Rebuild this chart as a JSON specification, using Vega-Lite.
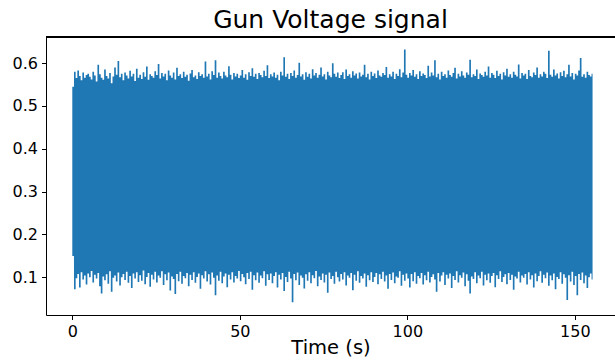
{
  "$schema": "https://vega.github.io/schema/vega-lite/v6.json",
  "width": 569,
  "height": 278,
  "autosize": {"type": "none"},
  "padding": {"left": 46, "top": 37, "right": 0, "bottom": 45},
  "background": "white",
  "title": {"text": "Gun Voltage signal", "fontSize": 25, "font": "DejaVu Sans", "fontWeight": "normal", "color": "black", "anchor": "middle", "baseline": "alphabetic", "offset": 8, "dy": 24},
  "config": {
    "view": {"stroke": null},
    "axis": {"domainColor": "black", "domainWidth": 1, "tickColor": "black", "tickWidth": 1, "tickSize": 4.5, "labelFont": "DejaVu Sans", "labelFontSize": 16, "labelColor": "black", "labelPadding": 4, "titleFont": "DejaVu Sans", "titleFontSize": 19.5, "titleFontWeight": "normal", "titleColor": "black", "grid": false}
  },
  "data": {"values": [
{"t":0,"hi":0.545,"lo":0.15},{"t":0.5,"hi":0.58,"lo":0.072},{"t":1,"hi":0.565,"lo":0.098},{"t":1.5,"hi":0.583,"lo":0.108},{"t":2,"hi":0.57,"lo":0.076},{"t":2.5,"hi":0.56,"lo":0.112},{"t":3,"hi":0.578,"lo":0.095},{"t":3.5,"hi":0.566,"lo":0.104},{"t":4,"hi":0.572,"lo":0.083},{"t":4.5,"hi":0.575,"lo":0.109},
{"t":5,"hi":0.568,"lo":0.1},{"t":5.5,"hi":0.562,"lo":0.115},{"t":6,"hi":0.58,"lo":0.088},{"t":6.5,"hi":0.571,"lo":0.106},{"t":7,"hi":0.557,"lo":0.097},{"t":7.5,"hi":0.596,"lo":0.11},{"t":8,"hi":0.574,"lo":0.079},{"t":8.5,"hi":0.566,"lo":0.062},{"t":9,"hi":0.561,"lo":0.102},{"t":9.5,"hi":0.585,"lo":0.093},
{"t":10,"hi":0.57,"lo":0.107},{"t":10.5,"hi":0.564,"lo":0.085},{"t":11,"hi":0.577,"lo":0.114},{"t":11.5,"hi":0.553,"lo":0.066},{"t":12,"hi":0.569,"lo":0.099},{"t":12.5,"hi":0.59,"lo":0.104},{"t":13,"hi":0.573,"lo":0.09},{"t":13.5,"hi":0.605,"lo":0.111},{"t":14,"hi":0.567,"lo":0.081},{"t":14.5,"hi":0.575,"lo":0.1},
{"t":15,"hi":0.56,"lo":0.108},{"t":15.5,"hi":0.578,"lo":0.094},{"t":16,"hi":0.571,"lo":0.113},{"t":16.5,"hi":0.564,"lo":0.087},{"t":17,"hi":0.582,"lo":0.103},{"t":17.5,"hi":0.569,"lo":0.075},{"t":18,"hi":0.575,"lo":0.109},{"t":18.5,"hi":0.558,"lo":0.097},{"t":19,"hi":0.587,"lo":0.112},{"t":19.5,"hi":0.566,"lo":0.089},
{"t":20,"hi":0.573,"lo":0.105},{"t":20.5,"hi":0.563,"lo":0.092},{"t":21,"hi":0.579,"lo":0.116},{"t":21.5,"hi":0.568,"lo":0.084},{"t":22,"hi":0.592,"lo":0.101},{"t":22.5,"hi":0.561,"lo":0.11},{"t":23,"hi":0.574,"lo":0.078},{"t":23.5,"hi":0.57,"lo":0.106},{"t":24,"hi":0.566,"lo":0.095},{"t":24.5,"hi":0.581,"lo":0.113},
{"t":25,"hi":0.572,"lo":0.088},{"t":25.5,"hi":0.598,"lo":0.104},{"t":26,"hi":0.564,"lo":0.099},{"t":26.5,"hi":0.577,"lo":0.114},{"t":27,"hi":0.569,"lo":0.082},{"t":27.5,"hi":0.575,"lo":0.107},{"t":28,"hi":0.56,"lo":0.093},{"t":28.5,"hi":0.583,"lo":0.111},{"t":29,"hi":0.571,"lo":0.069},{"t":29.5,"hi":0.566,"lo":0.102},
{"t":30,"hi":0.578,"lo":0.096},{"t":30.5,"hi":0.562,"lo":0.061},{"t":31,"hi":0.589,"lo":0.108},{"t":31.5,"hi":0.57,"lo":0.091},{"t":32,"hi":0.574,"lo":0.113},{"t":32.5,"hi":0.565,"lo":0.085},{"t":33,"hi":0.58,"lo":0.103},{"t":33.5,"hi":0.568,"lo":0.098},{"t":34,"hi":0.573,"lo":0.11},{"t":34.5,"hi":0.559,"lo":0.079},
{"t":35,"hi":0.576,"lo":0.106},{"t":35.5,"hi":0.584,"lo":0.094},{"t":36,"hi":0.567,"lo":0.112},{"t":36.5,"hi":0.571,"lo":0.087},{"t":37,"hi":0.563,"lo":0.101},{"t":37.5,"hi":0.579,"lo":0.109},{"t":38,"hi":0.57,"lo":0.073},{"t":38.5,"hi":0.574,"lo":0.105},{"t":39,"hi":0.566,"lo":0.097},{"t":39.5,"hi":0.604,"lo":0.114},
{"t":40,"hi":0.569,"lo":0.09},{"t":40.5,"hi":0.575,"lo":0.107},{"t":41,"hi":0.562,"lo":0.083},{"t":41.5,"hi":0.581,"lo":0.111},{"t":42,"hi":0.572,"lo":0.099},{"t":42.5,"hi":0.607,"lo":0.058},{"t":43,"hi":0.566,"lo":0.104},{"t":43.5,"hi":0.578,"lo":0.092},{"t":44,"hi":0.57,"lo":0.113},{"t":44.5,"hi":0.564,"lo":0.086},
{"t":45,"hi":0.58,"lo":0.102},{"t":45.5,"hi":0.571,"lo":0.109},{"t":46,"hi":0.567,"lo":0.077},{"t":46.5,"hi":0.593,"lo":0.106},{"t":47,"hi":0.573,"lo":0.095},{"t":47.5,"hi":0.562,"lo":0.112},{"t":48,"hi":0.577,"lo":0.088},{"t":48.5,"hi":0.569,"lo":0.103},{"t":49,"hi":0.575,"lo":0.097},{"t":49.5,"hi":0.565,"lo":0.115},
{"t":50,"hi":0.571,"lo":0.091},{"t":50.5,"hi":0.584,"lo":0.108},{"t":51,"hi":0.566,"lo":0.1},{"t":51.5,"hi":0.574,"lo":0.084},{"t":52,"hi":0.561,"lo":0.11},{"t":52.5,"hi":0.579,"lo":0.096},{"t":53,"hi":0.57,"lo":0.113},{"t":53.5,"hi":0.588,"lo":0.071},{"t":54,"hi":0.568,"lo":0.105},{"t":54.5,"hi":0.575,"lo":0.093},
{"t":55,"hi":0.563,"lo":0.111},{"t":55.5,"hi":0.577,"lo":0.087},{"t":56,"hi":0.572,"lo":0.104},{"t":56.5,"hi":0.567,"lo":0.098},{"t":57,"hi":0.582,"lo":0.114},{"t":57.5,"hi":0.57,"lo":0.08},{"t":58,"hi":0.595,"lo":0.107},{"t":58.5,"hi":0.565,"lo":0.094},{"t":59,"hi":0.574,"lo":0.109},{"t":59.5,"hi":0.569,"lo":0.086},
{"t":60,"hi":0.578,"lo":0.103},{"t":60.5,"hi":0.566,"lo":0.112},{"t":61,"hi":0.573,"lo":0.076},{"t":61.5,"hi":0.56,"lo":0.106},{"t":62,"hi":0.58,"lo":0.095},{"t":62.5,"hi":0.571,"lo":0.11},{"t":63,"hi":0.614,"lo":0.068},{"t":63.5,"hi":0.568,"lo":0.101},{"t":64,"hi":0.575,"lo":0.089},{"t":64.5,"hi":0.563,"lo":0.113},
{"t":65,"hi":0.577,"lo":0.097},{"t":65.5,"hi":0.57,"lo":0.042},{"t":66,"hi":0.583,"lo":0.108},{"t":66.5,"hi":0.566,"lo":0.093},{"t":67,"hi":0.572,"lo":0.111},{"t":67.5,"hi":0.601,"lo":0.082},{"t":68,"hi":0.569,"lo":0.104},{"t":68.5,"hi":0.574,"lo":0.099},{"t":69,"hi":0.561,"lo":0.074},{"t":69.5,"hi":0.579,"lo":0.107},
{"t":70,"hi":0.568,"lo":0.092},{"t":70.5,"hi":0.575,"lo":0.112},{"t":71,"hi":0.564,"lo":0.086},{"t":71.5,"hi":0.586,"lo":0.105},{"t":72,"hi":0.571,"lo":0.098},{"t":72.5,"hi":0.577,"lo":0.115},{"t":73,"hi":0.566,"lo":0.079},{"t":73.5,"hi":0.573,"lo":0.102},{"t":74,"hi":0.59,"lo":0.094},{"t":74.5,"hi":0.569,"lo":0.109},
{"t":75,"hi":0.574,"lo":0.088},{"t":75.5,"hi":0.562,"lo":0.106},{"t":76,"hi":0.58,"lo":0.064},{"t":76.5,"hi":0.571,"lo":0.111},{"t":77,"hi":0.567,"lo":0.096},{"t":77.5,"hi":0.6,"lo":0.103},{"t":78,"hi":0.575,"lo":0.085},{"t":78.5,"hi":0.568,"lo":0.113},{"t":79,"hi":0.578,"lo":0.1},{"t":79.5,"hi":0.565,"lo":0.09},
{"t":80,"hi":0.572,"lo":0.108},{"t":80.5,"hi":0.579,"lo":0.095},{"t":81,"hi":0.563,"lo":0.112},{"t":81.5,"hi":0.585,"lo":0.081},{"t":82,"hi":0.57,"lo":0.104},{"t":82.5,"hi":0.574,"lo":0.099},{"t":83,"hi":0.566,"lo":0.11},{"t":83.5,"hi":0.581,"lo":0.07},{"t":84,"hi":0.571,"lo":0.106},{"t":84.5,"hi":0.576,"lo":0.092},
{"t":85,"hi":0.564,"lo":0.114},{"t":85.5,"hi":0.578,"lo":0.087},{"t":86,"hi":0.569,"lo":0.103},{"t":86.5,"hi":0.573,"lo":0.097},{"t":87,"hi":0.596,"lo":0.109},{"t":87.5,"hi":0.567,"lo":0.078},{"t":88,"hi":0.575,"lo":0.105},{"t":88.5,"hi":0.562,"lo":0.093},{"t":89,"hi":0.58,"lo":0.112},{"t":89.5,"hi":0.57,"lo":0.089},
{"t":90,"hi":0.576,"lo":0.101},{"t":90.5,"hi":0.565,"lo":0.11},{"t":91,"hi":0.583,"lo":0.084},{"t":91.5,"hi":0.571,"lo":0.107},{"t":92,"hi":0.568,"lo":0.096},{"t":92.5,"hi":0.577,"lo":0.113},{"t":93,"hi":0.572,"lo":0.09},{"t":93.5,"hi":0.591,"lo":0.104},{"t":94,"hi":0.566,"lo":0.073},{"t":94.5,"hi":0.574,"lo":0.108},
{"t":95,"hi":0.569,"lo":0.094},{"t":95.5,"hi":0.58,"lo":0.111},{"t":96,"hi":0.563,"lo":0.086},{"t":96.5,"hi":0.575,"lo":0.102},{"t":97,"hi":0.57,"lo":0.099},{"t":97.5,"hi":0.586,"lo":0.114},{"t":98,"hi":0.567,"lo":0.08},{"t":98.5,"hi":0.578,"lo":0.106},{"t":99,"hi":0.632,"lo":0.092},{"t":99.5,"hi":0.573,"lo":0.109},
{"t":100,"hi":0.566,"lo":0.097},{"t":100.5,"hi":0.577,"lo":0.076},{"t":101,"hi":0.571,"lo":0.108},{"t":101.5,"hi":0.584,"lo":0.091},{"t":102,"hi":0.568,"lo":0.112},{"t":102.5,"hi":0.574,"lo":0.085},{"t":103,"hi":0.563,"lo":0.103},{"t":103.5,"hi":0.581,"lo":0.098},{"t":104,"hi":0.57,"lo":0.11},{"t":104.5,"hi":0.576,"lo":0.083},
{"t":105,"hi":0.572,"lo":0.105},{"t":105.5,"hi":0.565,"lo":0.093},{"t":106,"hi":0.594,"lo":0.113},{"t":106.5,"hi":0.569,"lo":0.088},{"t":107,"hi":0.578,"lo":0.101},{"t":107.5,"hi":0.571,"lo":0.107},{"t":108,"hi":0.607,"lo":0.095},{"t":108.5,"hi":0.567,"lo":0.066},{"t":109,"hi":0.575,"lo":0.11},{"t":109.5,"hi":0.562,"lo":0.09},
{"t":110,"hi":0.58,"lo":0.104},{"t":110.5,"hi":0.57,"lo":0.112},{"t":111,"hi":0.574,"lo":0.082},{"t":111.5,"hi":0.566,"lo":0.106},{"t":112,"hi":0.583,"lo":0.097},{"t":112.5,"hi":0.572,"lo":0.109},{"t":113,"hi":0.568,"lo":0.075},{"t":113.5,"hi":0.577,"lo":0.103},{"t":114,"hi":0.589,"lo":0.094},{"t":114.5,"hi":0.564,"lo":0.114},
{"t":115,"hi":0.575,"lo":0.088},{"t":115.5,"hi":0.569,"lo":0.105},{"t":116,"hi":0.581,"lo":0.099},{"t":116.5,"hi":0.571,"lo":0.111},{"t":117,"hi":0.566,"lo":0.079},{"t":117.5,"hi":0.578,"lo":0.107},{"t":118,"hi":0.573,"lo":0.092},{"t":118.5,"hi":0.608,"lo":0.062},{"t":119,"hi":0.567,"lo":0.102},{"t":119.5,"hi":0.574,"lo":0.096},
{"t":120,"hi":0.57,"lo":0.112},{"t":120.5,"hi":0.585,"lo":0.086},{"t":121,"hi":0.563,"lo":0.104},{"t":121.5,"hi":0.576,"lo":0.098},{"t":122,"hi":0.572,"lo":0.113},{"t":122.5,"hi":0.568,"lo":0.081},{"t":123,"hi":0.58,"lo":0.106},{"t":123.5,"hi":0.571,"lo":0.093},{"t":124,"hi":0.592,"lo":0.109},{"t":124.5,"hi":0.566,"lo":0.087},
{"t":125,"hi":0.577,"lo":0.103},{"t":125.5,"hi":0.573,"lo":0.11},{"t":126,"hi":0.565,"lo":0.077},{"t":126.5,"hi":0.582,"lo":0.105},{"t":127,"hi":0.57,"lo":0.096},{"t":127.5,"hi":0.575,"lo":0.114},{"t":128,"hi":0.562,"lo":0.089},{"t":128.5,"hi":0.579,"lo":0.101},{"t":129,"hi":0.571,"lo":0.107},{"t":129.5,"hi":0.587,"lo":0.084},
{"t":130,"hi":0.568,"lo":0.11},{"t":130.5,"hi":0.574,"lo":0.094},{"t":131,"hi":0.566,"lo":0.106},{"t":131.5,"hi":0.58,"lo":0.071},{"t":132,"hi":0.573,"lo":0.102},{"t":132.5,"hi":0.569,"lo":0.097},{"t":133,"hi":0.597,"lo":0.113},{"t":133.5,"hi":0.564,"lo":0.088},{"t":134,"hi":0.577,"lo":0.104},{"t":134.5,"hi":0.571,"lo":0.099},
{"t":135,"hi":0.575,"lo":0.108},{"t":135.5,"hi":0.563,"lo":0.083},{"t":136,"hi":0.584,"lo":0.112},{"t":136.5,"hi":0.57,"lo":0.095},{"t":137,"hi":0.567,"lo":0.105},{"t":137.5,"hi":0.578,"lo":0.076},{"t":138,"hi":0.572,"lo":0.109},{"t":138.5,"hi":0.59,"lo":0.091},{"t":139,"hi":0.566,"lo":0.103},{"t":139.5,"hi":0.574,"lo":0.114},
{"t":140,"hi":0.569,"lo":0.087},{"t":140.5,"hi":0.58,"lo":0.106},{"t":141,"hi":0.575,"lo":0.098},{"t":141.5,"hi":0.565,"lo":0.111},{"t":142,"hi":0.629,"lo":0.08},{"t":142.5,"hi":0.573,"lo":0.104},{"t":143,"hi":0.568,"lo":0.093},{"t":143.5,"hi":0.585,"lo":0.109},{"t":144,"hi":0.571,"lo":0.072},{"t":144.5,"hi":0.576,"lo":0.101},
{"t":145,"hi":0.564,"lo":0.096},{"t":145.5,"hi":0.579,"lo":0.112},{"t":146,"hi":0.57,"lo":0.085},{"t":146.5,"hi":0.582,"lo":0.107},{"t":147,"hi":0.567,"lo":0.099},{"t":147.5,"hi":0.574,"lo":0.047},{"t":148,"hi":0.596,"lo":0.105},{"t":148.5,"hi":0.569,"lo":0.09},{"t":149,"hi":0.577,"lo":0.113},{"t":149.5,"hi":0.562,"lo":0.082},
{"t":150,"hi":0.575,"lo":0.103},{"t":150.5,"hi":0.571,"lo":0.058},{"t":151,"hi":0.583,"lo":0.108},{"t":151.5,"hi":0.612,"lo":0.094},{"t":152,"hi":0.568,"lo":0.111},{"t":152.5,"hi":0.574,"lo":0.086},{"t":153,"hi":0.566,"lo":0.104},{"t":153.5,"hi":0.58,"lo":0.075},{"t":154,"hi":0.572,"lo":0.1},{"t":154.5,"hi":0.569,"lo":0.109},
{"t":155,"hi":0.575,"lo":0.095},{"t":155.3,"hi":0.575,"lo":0.095}
  ]},
  "layer": [
    {
      "mark": {"type": "area", "interpolate": "step-after", "color": "#1f77b4", "opacity": 1},
      "encoding": {
        "x": {"field": "t", "type": "quantitative", "scale": {"domain": [-7.85, 162.0], "nice": false, "zero": false}, "axis": {"values": [0, 50, 100, 150], "title": "Time (s)", "titleBaseline": "alphabetic", "titlePadding": 14}},
        "y": {"field": "hi", "type": "quantitative", "scale": {"domain": [0.012, 0.661], "nice": false, "zero": false}, "axis": {"values": [0.1, 0.2, 0.3, 0.4, 0.5, 0.6], "format": ".1f", "title": null}},
        "y2": {"field": "lo"}
      }
    },
    {
      "mark": {"type": "rule", "color": "black", "strokeWidth": 1},
      "encoding": {"y": {"datum": 0.661}}
    }
  ]
}
